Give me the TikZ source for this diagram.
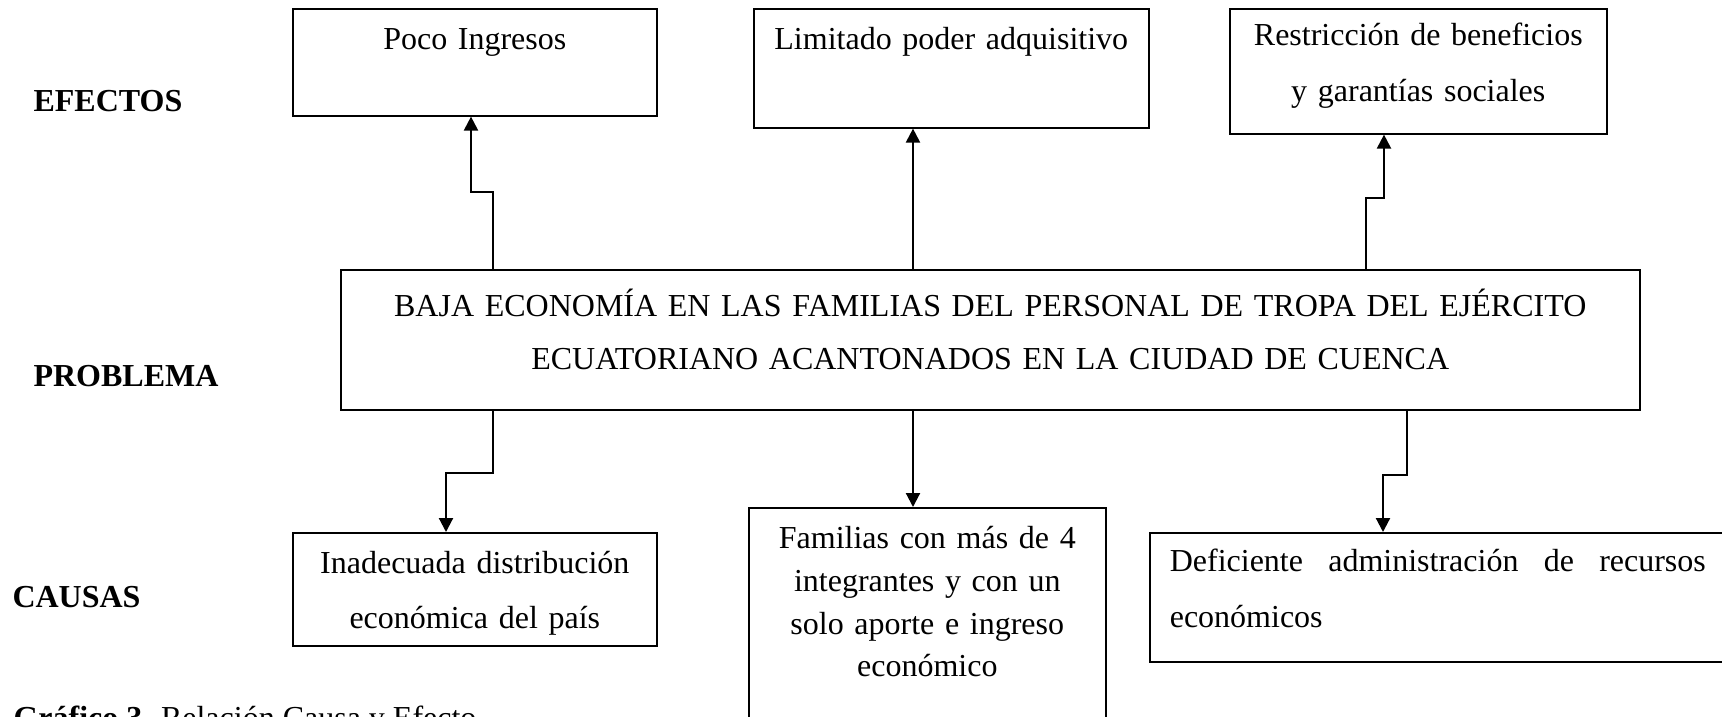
\documentclass[tikz,border=0pt]{standalone}
\usepackage{fontspec}
\setmainfont{Liberation Serif}
\usetikzlibrary{arrows.meta,calc,positioning}

\tikzset{
  caja/.style={draw, line width=0.6pt, anchor=north west, inner xsep=0pt, inner ysep=0pt,
    align=center, font=\fontsize{12}{20.6}\selectfont},
  flecha/.style={line width=0.8pt, -{Triangle[length=5.25pt,width=5.25pt]}},
  rotulo/.style={anchor=base west, inner sep=0pt, font=\fontsize{12}{14}\selectfont\bfseries}
}

\begin{document}
\begin{tikzpicture}[x=0.375pt,y=-0.375pt]
\useasboundingbox (0,0) rectangle (1722,716);

% rotulos de la izquierda
\node[rotulo] (lefe) at (33,111) {EFECTOS};
\node[rotulo] (lpro) at (33,386) {PROBLEMA};
\node[rotulo] (lcau) at (12,607) {CAUSAS};

% efectos
\node[caja, text width=136.5pt, text height=15.375pt, text depth=24.75pt] (ef1) at (292,8) {Poco Ingresos};
\node[caja, text width=148.125pt, text height=15.375pt, text depth=29.25pt] (ef2) at (753,8) {Limitado poder adquisitivo};
\node[caja, text width=141.375pt, text height=13.875pt, text depth=33pt,
  font=\fontsize{12}{21}\selectfont] (ef3) at (1229,8) {Restricción de beneficios\\ y garantías sociales};

% problema
\node[caja, text width=487.125pt, text height=17.625pt, text depth=34.875pt,
  font=\fontsize{12}{19.875}\selectfont] (prob) at (340,269)
  {BAJA ECONOMÍA EN LAS FAMILIAS DEL PERSONAL DE TROPA DEL EJÉRCITO\\ ECUATORIANO ACANTONADOS EN LA CIUDAD DE CUENCA};

% causas
\node[caja, text width=136.5pt, text height=15.375pt, text depth=27pt,
  font=\fontsize{12}{20.625}\selectfont] (ca1) at (292,532) {Inadecuada distribución\\ económica del país};
\node[caja, text width=133.875pt, text height=15.375pt, text depth=72pt,
  font=\fontsize{12}{16}\selectfont] (ca2) at (748,507) {Familias con más de 4\\ integrantes y con un\\ solo aporte e ingreso\\ económico};
\node[caja, text width=201pt, inner xsep=7.5pt, text height=14.625pt, text depth=33.75pt,
  align=justify, font={\fontsize{12}{21}\selectfont\hyphenpenalty=10000\relax}] (ca3) at (1149,532)
  {Deficiente administración de recursos económicos};

% flechas hacia los efectos
\draw[flecha] ($(prob.north west)+(153,0)$) -- ++(0,-77) -| ($(ef1.south west)+(179,0)$);
\draw[flecha] ($(prob.north west)+(573,0)$) -- ($(ef2.south west)+(160,0)$);
\draw[flecha] ($(prob.north west)+(1026,0)$) -- ++(0,-71) -| ($(ef3.south west)+(155,0)$);

% flechas hacia las causas
\draw[flecha] ($(prob.south west)+(153,0)$) -- ++(0,62) -| ($(ca1.north west)+(154,0)$);
\draw[flecha] ($(prob.south west)+(573,0)$) -- ($(ca2.north west)+(165,0)$);
\draw[flecha] ($(prob.south west)+(1067,0)$) -- ++(0,64) -| ($(ca3.north west)+(234,0)$);

% pie
\node[anchor=base west, inner sep=0pt, font=\fontsize{12}{14}\selectfont] (pie) at (13,728)
  {\textbf{Gráfico 3.} Relación Causa y Efecto};

\end{tikzpicture}
\end{document}
